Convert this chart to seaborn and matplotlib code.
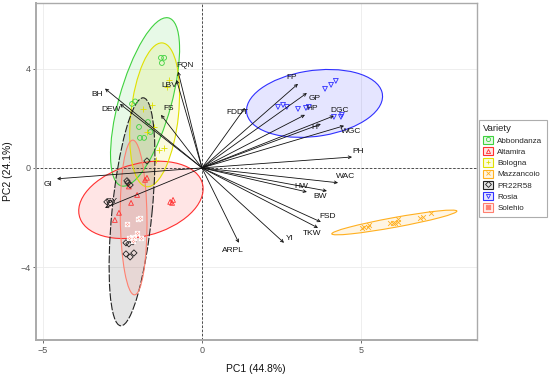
import numpy as np
import pandas as pd
import matplotlib
matplotlib.use("Agg")
import matplotlib.pyplot as plt
import seaborn as sns
from matplotlib.patches import Ellipse, Patch
from matplotlib.lines import Line2D
from matplotlib.path import Path
from matplotlib.legend_handler import HandlerTuple

# ---------------- data ----------------
varieties = ["Abbondanza", "Altamira", "Bologna", "Mazzancoio", "PR22R58", "Rosia", "Solehio"]
colors = ["#3FD23F", "#FF3030", "#E0E000", "#FFB020", "#222222", "#3030FF", "#FF8070"]

abb_x = [-1.29, -1.19, -1.26, -2.20, -2.10, -1.98, -1.70, -1.95, -1.82, -1.62]
abb_y = [4.44, 4.44, 4.23, 2.58, 2.68, 1.65, 1.85, 1.21, 1.21, 1.45]
alt_x = [-2.04, -2.23, -2.74, -2.61, -1.00, -0.91, -0.94, -1.79, -1.73, -2.30]
alt_y = [-1.09, -1.41, -2.10, -1.81, -1.37, -1.29, -1.41, -0.48, -0.40, -0.75]
bol_x = [-1.04, -1.10, -1.57, -1.86, -1.51, -1.73, -1.35, -1.19, -1.45]
bol_y = [3.55, 3.27, 2.54, 2.38, 1.65, 1.45, 0.73, 0.81, 0.30]
maz_x = [5.03, 5.09, 5.22, 5.25, 5.91, 6.00, 6.07, 6.16, 6.16, 6.86, 6.95, 7.20]
maz_y = [-2.42, -2.38, -2.38, -2.30, -2.22, -2.22, -2.22, -2.18, -2.06, -2.02, -1.98, -1.81]
pr_x = [-1.73, -2.33, -2.26, -2.99, -2.89, -2.39, -2.30, -2.17, -2.39, -2.26, -2.14, -2.36]
pr_y = [0.28, -0.60, -0.69, -1.37, -1.41, -3.02, -3.06, -2.98, -3.47, -3.59, -3.43, -0.52]
ros_x = [3.87, 4.06, 4.21, 2.39, 2.55, 2.67, 3.02, 3.27, 3.36, 4.15, 4.40, 4.37]
ros_y = [3.19, 3.35, 3.51, 2.46, 2.54, 2.46, 2.38, 2.42, 2.46, 2.06, 2.14, 2.06]
sol_x = [-2.01, -1.95, -2.04, -2.20, -2.14, -2.30, -1.92, -2.36, -2.17]
sol_y = [-2.06, -2.02, -2.62, -2.78, -2.82, -2.82, -2.82, -2.26, -2.94]

# ellipse parameters (centre, semi-axes, angle in data units)
ell_cx = [-1.79, -1.92, -1.49, 6.05, -2.20, 3.54, -2.15]
ell_cy = [2.66, -1.29, 2.14, -2.20, -1.77, 2.60, -2.00]
ell_a = [3.47, 2.06, 2.91, 2.02, 4.61, 2.17, 3.12]
ell_b = [0.83, 1.42, 0.75, 0.195, 0.63, 1.32, 0.42]
ell_ang = [78.0, 25.6, 85.3, 13.2, 85.6, 12.2, 90.5]

# loading vectors
var_names = ["FQN", "LBV", "BH", "DEW", "FS", "FDDT", "FP", "GP", "HP", "DGC", "H", "WGC",
             "PH", "WAC", "HW", "BW", "FSD", "TKW", "YI", "ARPL", "GI", "GY"]
load_x = [-0.75, -0.80, -3.05, -2.58, -1.29, 1.35, 3.02, 3.30, 3.24, 4.15, 3.74, 4.47,
          4.72, 4.28, 3.30, 3.93, 3.74, 3.65, 2.58, 1.16, -4.56, -3.05]
load_y = [3.88, 3.55, 3.20, 2.58, 2.14, 2.42, 3.39, 3.02, 2.14, 2.10, 1.77, 1.70,
          0.44, -0.60, -0.97, -0.93, -2.18, -2.42, -3.02, -3.02, -0.44, -1.61]
lab_x = [-0.53, -1.04, -3.30, -2.86, -1.05, 1.13, 2.83, 3.55, 3.46, 4.34, 3.52, 4.69,
         4.91, 4.53, 3.11, 3.71, 3.96, 3.46, 2.77, 0.97, -4.84, -2.85]
lab_y = [4.11, 3.31, 2.94, 2.34, 2.38, 2.22, 3.63, 2.78, 2.38, 2.30, 1.61, 1.45,
         0.65, -0.36, -0.73, -1.17, -1.94, -2.66, -2.86, -3.35, -0.65, -1.37]

x_label = "PC1 (44.8%)"
y_label = "PC2 (24.1%)"
legend_title = "Variety"

# ---------------- build frame ----------------
xs = [abb_x, alt_x, bol_x, maz_x, pr_x, ros_x, sol_x]
ys = [abb_y, alt_y, bol_y, maz_y, pr_y, ros_y, sol_y]
df = pd.concat([pd.DataFrame({"PC1": x, "PC2": y, "Variety": v})
                for x, y, v in zip(xs, ys, varieties)], ignore_index=True)

# square with x marker (R shape 7)
sqx = Path([(-1, -1), (1, -1), (1, 1), (-1, 1), (-1, -1), (-1, -1), (1, 1), (1, -1), (-1, 1)],
           [Path.MOVETO, Path.LINETO, Path.LINETO, Path.LINETO, Path.CLOSEPOLY,
            Path.MOVETO, Path.LINETO, Path.MOVETO, Path.LINETO])
markers = ["o", "^", "+", "x", "D", "v", sqx]
line_art = [False, False, True, True, False, False, True]
msizes = [12, 12, 16, 12, 10, 12, 10]

sns.set_theme(style="white")
plt.rcParams["font.family"] = ["Liberation Sans", "DejaVu Sans"]

fig = plt.figure(figsize=(5.5, 3.77), dpi=100)
ax = fig.add_axes([36 / 550, 1 - 340 / 377, (477 - 36) / 550, (340 - 3) / 377])

ax.set_xlim(-5.22, 8.65)
ax.set_ylim(-6.94, 6.65)
ax.set_xticks([-5, 0, 5])
ax.set_yticks([-4, 0, 4])
ax.grid(True, color="#EBEBEB", lw=0.6)
ax.set_axisbelow(True)

# ellipses
for i, v in enumerate(varieties):
    ax.add_patch(Ellipse((ell_cx[i], ell_cy[i]), 2 * ell_a[i], 2 * ell_b[i], angle=ell_ang[i],
                         facecolor=colors[i], alpha=0.12, edgecolor="none", zorder=1))
    ls = (0, (7, 1.5)) if v == "PR22R58" else "-"
    ax.add_patch(Ellipse((ell_cx[i], ell_cy[i]), 2 * ell_a[i], 2 * ell_b[i], angle=ell_ang[i],
                         facecolor="none", edgecolor=colors[i], lw=0.8, ls=ls, zorder=2))

# points
for i, v in enumerate(varieties):
    sub = df[df["Variety"] == v]
    if line_art[i]:
        sns.scatterplot(data=sub, x="PC1", y="PC2", marker=markers[i], color=colors[i],
                        s=msizes[i], linewidth=0.6, ax=ax, zorder=3, legend=False)
    else:
        sns.scatterplot(data=sub, x="PC1", y="PC2", marker=markers[i], facecolor="none",
                        edgecolor=colors[i], s=msizes[i], linewidth=0.6, ax=ax, zorder=3,
                        legend=False)

# zero lines
ax.axhline(0, color="#333333", lw=0.6, ls=(0, (3, 2)), zorder=1.5)
ax.axvline(0, color="#333333", lw=0.6, ls=(0, (3, 2)), zorder=1.5)

# arrows
for name, lx, ly, tx, ty in zip(var_names, load_x, load_y, lab_x, lab_y):
    ax.annotate("", xy=(lx, ly), xytext=(0, 0),
                arrowprops=dict(arrowstyle="->", lw=0.6, color="#111111",
                                mutation_scale=5, shrinkA=0, shrinkB=0), zorder=4)
    ax.text(tx, ty, name, fontsize=6, ha="center", va="center", color="#111111", zorder=5)

ax.set_xlabel("")
ax.set_ylabel("")
fig.text(256 / 550, 1 - 369 / 377, x_label, fontsize=7.5, color="#111111",
         ha="center", va="center")
fig.text(8 / 550, 1 - 171 / 377, y_label, fontsize=7.5, color="#111111",
         ha="center", va="center", rotation=90)
ax.tick_params(axis="both", labelsize=6.5, colors="#555555", length=2, width=0.6,
               bottom=True, left=True, pad=2)
for side, sp in ax.spines.items():
    sp.set_color("#AAAAAA")
    sp.set_linewidth(1.0)
ax.spines["left"].set_linewidth(1.4)
ax.spines["bottom"].set_linewidth(1.4)

# legend
handles = []
for i, v in enumerate(varieties):
    p = Patch(facecolor=matplotlib.colors.to_rgba(colors[i], 0.12), edgecolor=colors[i], lw=0.8)
    if line_art[i]:
        m = Line2D([], [], marker=markers[i], ls="none", color=colors[i], markersize=3.2,
                   markeredgewidth=0.6)
    else:
        m = Line2D([], [], marker=markers[i], ls="none", markerfacecolor="none",
                   markeredgecolor=colors[i], markersize=3.0, markeredgewidth=0.6)
    handles.append((p, m))
leg = fig.legend(handles=handles, labels=varieties, loc="upper right",
                 bbox_to_anchor=(547 / 550, 1 - 120 / 377),
                 handler_map={tuple: HandlerTuple(ndivide=1)},
                 title=legend_title, fontsize=5.8, title_fontsize=6.8,
                 handlelength=1.2, handleheight=1.2, handletextpad=0.6,
                 labelspacing=0.3, borderpad=0.55, borderaxespad=0, frameon=True,
                 fancybox=False, alignment="left")
leg.get_frame().set_edgecolor("#999999")
leg.get_frame().set_linewidth(0.8)

fig.savefig("out.png", dpi=100)
